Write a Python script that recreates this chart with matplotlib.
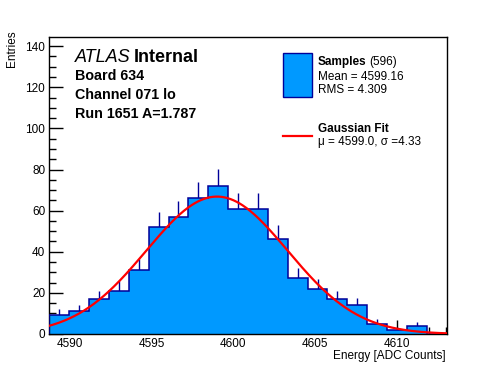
import matplotlib
matplotlib.use('Agg')
import matplotlib.pyplot as plt
import numpy as np
from matplotlib.ticker import MultipleLocator

plt.rcParams['font.family'] = ['Liberation Sans', 'DejaVu Sans']

# histogram
x_lo, x_hi = 4588.73, 4613.07
counts = [9, 11, 17, 21, 31, 52, 57, 66, 72, 61,
          61, 46, 27, 22, 17, 14, 5, 2, 4, 0]
n_entries = 596
mean, rms = 4599.16, 4.309
fit_mu, fit_sigma = 4599.0, 4.33

W, H = 496, 372
fig = plt.figure(figsize=(W / 100, H / 100), dpi=100)
ax = fig.add_axes([49.3 / W, 1 - 334 / H, (446.7 - 49.3) / W, (334 - 37.3) / H])

edges = np.linspace(x_lo, x_hi, len(counts) + 1)
centers = 0.5 * (edges[:-1] + edges[1:])
counts = np.array(counts, dtype=float)
width = edges[1] - edges[0]

fill_col = '#0099ff'
line_col = '#000099'

ax.vlines(centers, counts - np.sqrt(counts), counts + np.sqrt(counts),
          color=line_col, linewidth=1, zorder=1)
ax.stairs(counts, edges, fill=True, color=fill_col, zorder=2)
ax.stairs(counts, edges, color=line_col, linewidth=1.1, zorder=3)

xs = np.linspace(x_lo, x_hi, 400)
amp = n_entries * width / (np.sqrt(2 * np.pi) * fit_sigma)
ax.plot(xs, amp * np.exp(-0.5 * ((xs - fit_mu) / fit_sigma) ** 2),
        color='red', linewidth=1.6, zorder=4)

ax.set_xlim(x_lo, x_hi)
ax.set_ylim(0, 144.3)
ax.xaxis.set_major_locator(MultipleLocator(5))
ax.xaxis.set_minor_locator(MultipleLocator(1))
ax.yaxis.set_major_locator(MultipleLocator(20))
ax.yaxis.set_minor_locator(MultipleLocator(5))
ax.tick_params(which='major', direction='in', length=10, width=1, labelsize=8.5, pad=3)
ax.tick_params(which='minor', direction='in', length=5, width=1)
ax.tick_params(top=False, right=False, which='both')
for s in ax.spines.values():
    s.set_linewidth(1)

def px(x, y):
    return x / W, 1 - y / H

fig.text(*px(12, 30), 'Entries', rotation=90, ha='center', va='top', fontsize=8.5)
fig.text(*px(446, 356), 'Energy [ADC Counts]', ha='right', va='center', fontsize=8.5)

fig.text(*px(75, 57), 'ATLAS', style='italic', ha='left', va='center', fontsize=13)
fig.text(*px(134, 57), 'Internal', weight='bold', ha='left', va='center', fontsize=13)
fig.text(*px(75, 76), 'Board 634', weight='bold', ha='left', va='center', fontsize=10.3)
fig.text(*px(75, 95), 'Channel 071 lo', weight='bold', ha='left', va='center', fontsize=10.3)
fig.text(*px(75, 114), 'Run 1651 A=1.787', weight='bold', ha='left', va='center', fontsize=10.3)

# legend drawn by hand like the ROOT one
box = plt.Rectangle(px(283.3, 96.7), 28.4 / W, 43.4 / H, transform=fig.transFigure,
                    facecolor=fill_col, edgecolor=line_col, linewidth=1)
fig.add_artist(box)
fig.text(*px(317.5, 62), 'Samples', weight='bold', ha='left', va='center', fontsize=8.5)
fig.text(*px(369, 62), f'({n_entries})', ha='left', va='center', fontsize=8.5)
fig.text(*px(317.5, 77), f'Mean = {mean:.2f}', ha='left', va='center', fontsize=8.5)
fig.text(*px(317.5, 90), f'RMS = {rms:.3f}', ha='left', va='center', fontsize=8.5)
fig.add_artist(plt.Line2D([283.3 / W, 311.7 / W], [1 - 136 / H, 1 - 136 / H],
                          transform=fig.transFigure, color='red', linewidth=1.6))
fig.text(*px(317.5, 129), 'Gaussian Fit', weight='bold', ha='left', va='center', fontsize=8.5)
fig.text(*px(317.5, 142), f'\u03bc = {fit_mu:.1f}, \u03c3 ={fit_sigma:.2f}',
         ha='left', va='center', fontsize=8.5)

fig.savefig('out.png', dpi=100)
